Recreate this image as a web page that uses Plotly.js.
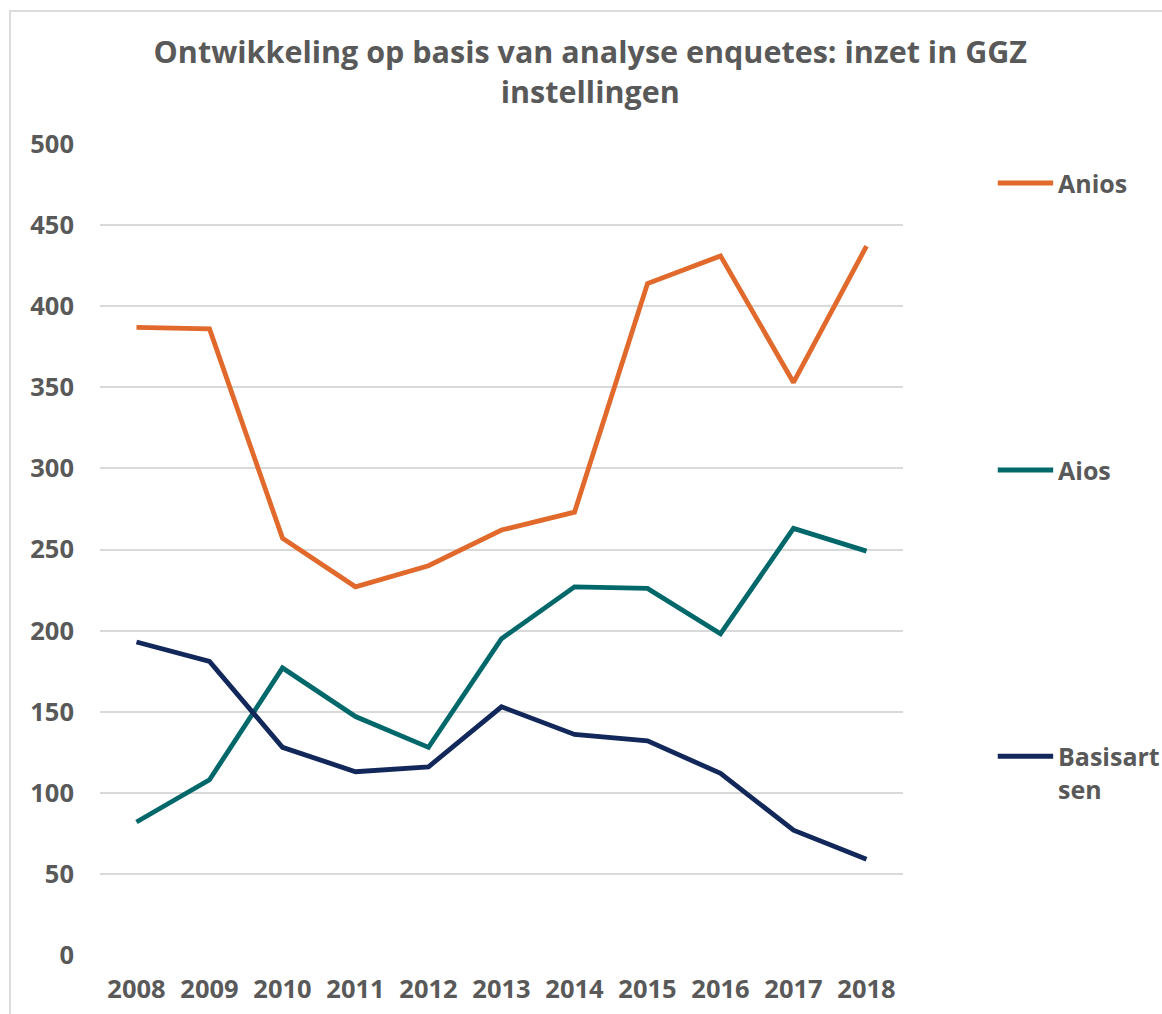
<!DOCTYPE html>
<html><head><meta charset="utf-8">
<script src="https://cdn.plot.ly/plotly-3.0.1.min.js"></script>
<style>
body{margin:0;background:#fff;}
#frame{position:absolute;left:9px;top:10px;width:1300px;height:1200px;border:2px solid #dcdcdc;box-sizing:border-box;}
#chart{position:absolute;left:0;top:0;width:1162px;height:1014px;}
</style></head>
<body>
<div id="frame"></div>
<div id="chart"></div>
<script>
const years = ["2008","2009","2010","2011","2012","2013","2014","2015","2016","2017","2018"];
const anios = [387, 386, 257, 227, 240, 262, 273, 414, 431, 353, 437];
const aios = [82, 108, 177, 147, 128, 195, 227, 226, 198, 263, 249];
const basisartsen = [193, 181, 128, 113, 116, 153, 136, 132, 112, 77, 59];
const seriesNames = ["Anios", "Aios", "Basisart<br>sen"];
const seriesColors = ["#E0692B", "#00686B", "#13285A"];
const yTicks = [0, 50, 100, 150, 200, 250, 300, 350, 400, 450, 500];

const gray = "#595959";
const font = "'Open Sans', sans-serif";
const series = [anios, aios, basisartsen];
const data = series.map((vals, i) => ({
  x: years, y: vals, name: seriesNames[i], type: "scatter", mode: "lines",
  line: {color: seriesColors[i], width: 4.8}, showlegend: false
}));

// custom legend (Excel style: long line sample, items spread on the right)
const legendY = [0.952, 0.598, 0.245]; // paper y of each item's line
const shapes = [], annotations = [];
seriesNames.forEach((n, i) => {
  shapes.push({type: "line", xref: "paper", yref: "paper", x0: 1.118, x1: 1.187,
    y0: legendY[i], y1: legendY[i], line: {color: seriesColors[i], width: 5}});
  annotations.push({xref: "paper", yref: "paper", x: 1.191, y: legendY[i] + 0.0235,
    xanchor: "left", yanchor: "top", align: "left", showarrow: false,
    text: "<b>" + n.replace("<br>", "</b><br><b>") + "</b>",
    font: {size: 25, color: gray, family: font}});
});

const layout = {
  width: 1162, height: 1014,
  paper_bgcolor: "rgba(0,0,0,0)", plot_bgcolor: "rgba(0,0,0,0)",
  margin: {l: 100, r: 259, t: 144, b: 59},
  font: {family: font, color: gray},
  title: {text: "<b>Ontwikkeling op basis van analyse enquetes: inzet in GGZ<br>instellingen</b>",
    font: {size: 30.5, color: gray, family: font}, x: 0.508, xanchor: "center", y: 0.938, yanchor: "middle", yref: "container"},
  xaxis: {type: "category", range: [-0.5, 10.5], showgrid: false, zeroline: false, showline: false,
    ticks: "", tickfont: {size: 25.5, color: gray, family: font}, ticklabelstandoff: 16, fixedrange: true,
    tickprefix: "<b>", ticksuffix: "</b>"},
  yaxis: {range: [0, 500], tickvals: yTicks, ticktext: yTicks.map(v => "<b>" + v + "</b>"),
    showgrid: true, gridcolor: "#d9d9d9", gridwidth: 2, zeroline: false, showline: false,
    tickfont: {size: 25.5, color: gray, family: font}, ticklabelstandoff: 25, fixedrange: true},
  shapes: shapes, annotations: annotations,
  showlegend: false
};
Plotly.newPlot("chart", data, layout, {displayModeBar: false, staticPlot: true});
</script>
</body></html>
